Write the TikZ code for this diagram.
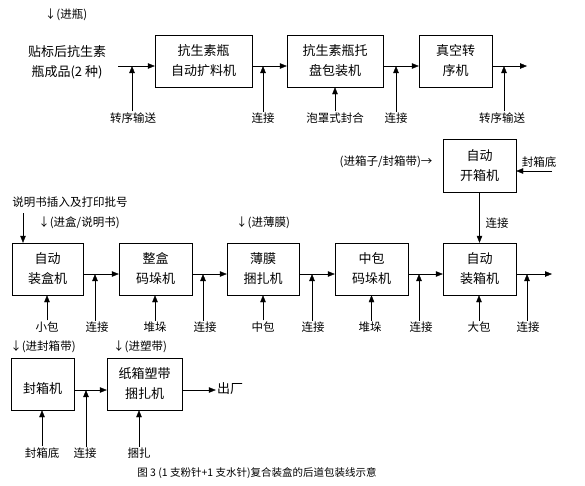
\documentclass[tikz,border=0pt]{standalone}
\usepackage{fontspec}
\setmainfont{Noto Sans CJK SC}
\usetikzlibrary{positioning, arrows.meta}
\tikzset{
	->,
	>={Triangle[length=7pt,width=5.5pt]},
	line width=0.8pt,
	machine/.style={draw, minimum height=52pt, inner sep=0pt, align=center, font=\fontsize{13}{20}\selectfont},
	feed/.style={inner sep=1pt, font=\fontsize{11.5}{14}\selectfont},
	note/.style={inner sep=1pt, align=center, font=\fontsize{13}{20}\selectfont}
}

\begin{document}
\begin{tikzpicture}
	[ x=1pt, y=-1pt ]
	\useasboundingbox (0,0) rectangle (585,485);
	% first line: bottles
	\node[feed] (jp) at (66,15) {↓(进瓶)};
	\node[note] (src) at (67,62) {贴标后抗生素\\瓶成品(2 种)};
	\node[machine, minimum width=97pt] (kp) at (203.5,61) {抗生素瓶\\自动扩料机};
	\node[machine, minimum width=96pt] (tp) at (335,61) {抗生素瓶托\\盘包装机};
	\node[machine, minimum width=73pt] (zk) at (455.5,61) {真空转\\序机};
	\coordinate (in1) at (118,66);
	\coordinate (out1) at (527,66);
	\node[feed] (zs1) at (133,118) {转序输送};
	\node[feed] (lj1) at (263,118) {连接};
	\node[feed] (pz) at (335,118) {泡罩式封合};
	\node[feed] (lj2) at (396,118) {连接};
	\node[feed] (zs2) at (502,118) {转序输送};
	\draw (in1) -- (in1 -| kp.west);
	\draw ([yshift=-5pt]kp.east) -- ([yshift=-5pt]tp.west);
	\draw ([yshift=-5pt]tp.east) -- ([yshift=-5pt]zk.west);
	\draw ([yshift=-5pt]zk.east) -- (out1);
	\draw ([xshift=-1pt]zs1.north) -- ([xshift=-1pt]zs1.north |- in1);
	\draw (lj1.north) -- (lj1.north |- in1);
	\draw (pz.north) -- (tp.south);
	\draw (lj2.north) -- (lj2.north |- in1);
	\draw ([xshift=2pt]zs2.north) -- ([xshift=2pt]zs2.north |- in1);
	% second line: boxes and cases
	\node[machine, minimum width=73pt, minimum height=53pt] (ko) at (479.5,165.5) {自动\\开箱机};
	\node[feed] (jx) at (386,162) {(进箱子/封箱带)→};
	\node[feed] (fxd1) at (539,162) {封箱底};
	\coordinate (fd) at (552,171);
	\draw (fd) -- (fd -| ko.east);
	\node[feed] (sm) at (70,202) {说明书插入及打印批号};
	\node[feed] (jh) at (79,223) {↓(进盒/说明书)};
	\node[feed] (jbm) at (263,223) {↓(进薄膜)};
	\node[machine, minimum width=71pt] (hz) at (47.5,269) {自动\\装盒机};
	\node[machine, minimum width=73pt] (zh) at (155.5,269) {整盒\\码垛机};
	\node[machine, minimum width=72pt] (bm) at (263,269) {薄膜\\捆扎机};
	\node[machine, minimum width=73pt] (zb) at (371.5,269) {中包\\码垛机};
	\node[machine, minimum width=73pt] (zx) at (479.5,269) {自动\\装箱机};
	\node[feed] (lj9) at (497,223) {连接};
	\draw (ko) -- (zx);
	\coordinate (smin) at (23,213);
	\draw (smin) -- (smin |- hz.north);
	\coordinate (in2) at (83,274);
	\coordinate (out2) at (552,274);
	\draw ([yshift=-5pt]hz.east) -- ([yshift=-5pt]zh.west);
	\draw ([yshift=-5pt]zh.east) -- ([yshift=-5pt]bm.west);
	\draw ([yshift=-5pt]bm.east) -- ([yshift=-5pt]zb.west);
	\draw ([yshift=-5pt]zb.east) -- ([yshift=-5pt]zx.west);
	\draw ([yshift=-5pt]zx.east) -- (out2);
	\node[feed] (xb) at (47,327) {小包};
	\node[feed] (lj3) at (97,327) {连接};
	\node[feed] (dd1) at (155,327) {堆垛};
	\node[feed] (lj4) at (205,327) {连接};
	\node[feed] (zbao) at (263,327) {中包};
	\node[feed] (lj5) at (313,327) {连接};
	\node[feed] (dd2) at (370,327) {堆垛};
	\node[feed] (lj6) at (421,327) {连接};
	\node[feed] (db) at (479,327) {大包};
	\node[feed] (lj7) at (528,327) {连接};
	\draw (xb.north) -- (xb.north |- hz.south);
	\draw ([xshift=-2pt]lj3.north) -- ([xshift=-2pt]lj3.north |- in2);
	\draw (dd1.north) -- (dd1.north |- zh.south);
	\draw ([xshift=-2pt]lj4.north) -- ([xshift=-2pt]lj4.north |- in2);
	\draw (zbao.north) -- (zbao.north |- bm.south);
	\draw ([xshift=-1pt]lj5.north) -- ([xshift=-1pt]lj5.north |- in2);
	\draw ([xshift=1.5pt]dd2.north) -- ([xshift=1.5pt]dd2.north |- zb.south);
	\draw ([xshift=-2pt]lj6.north) -- ([xshift=-2pt]lj6.north |- in2);
	\draw (db.north) -- (db.north |- zx.south);
	\draw ([xshift=-1pt]lj7.north) -- ([xshift=-1pt]lj7.north |- in2);
	% third line: sealing and strapping
	\node[feed] (jfx) at (43,347) {↓(进封箱带)};
	\node[feed] (jsd) at (140,347) {↓(进塑带)};
	\node[machine, minimum width=63pt] (fx) at (42.5,384) {\mbox{}\\封箱机};
	\node[machine, minimum width=75pt] (sd) at (144.5,384) {纸箱塑带\\捆扎机};
	\node[note] (cc) at (230,389) {出厂};
	\coordinate (in3) at (74,390);
	\draw ([yshift=-6pt]fx.east) -- ([yshift=-6pt]sd.west);
	\draw ([yshift=-6pt]sd.east) -- ([yshift=-6pt]sd.east -| cc.west);
	\node[feed] (fxd2) at (42,453) {封箱底};
	\node[feed] (lj8) at (85,453) {连接};
	\node[feed] (kz) at (139,453) {捆扎};
	\draw (fxd2.north) -- (fxd2.north |- fx.south);
	\draw ([xshift=1pt]lj8.north) -- ([xshift=1pt]lj8.north |- in3);
	\draw (kz.north) -- (kz.north |- sd.south);
	\node[inner sep=1pt, font=\fontsize{10.5}{12}\selectfont] (cap) at (257,473) {图 3 (1 支粉针+1 支水针)复合装盒的后道包装线示意};
\end{tikzpicture}
\end{document}
